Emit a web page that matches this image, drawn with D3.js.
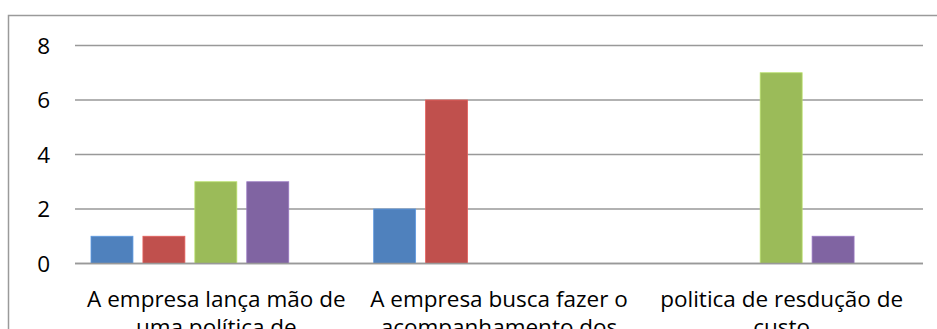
<!DOCTYPE html>
<html>
<head>
<meta charset="utf-8">
<script src="https://cdn.jsdelivr.net/npm/d3@7"></script>
<style>
  body { margin: 0; background: #fff; }
  svg { display: block; }
  text { font-family: "Open Sans", "Noto Sans", sans-serif; fill: #000; }
</style>
</head>
<body>
<svg id="chart" width="937" height="329"></svg>
<script>
// categories (each label broken into its lines, as in the picture)
var categories = ['c1', 'c2', 'c3'];
var categoryLines = [
    ['A empresa lança mão de', 'uma política de'],
    ['A empresa busca fazer o', 'acompanhamento dos'],
    ['politica de resdução de', 'custo']
];
var seriesNames = ['s1', 's2', 's3', 's4', 's5'];
var seriesColors = ['#4F81BD', '#C0504D', '#9BBB59', '#8064A2', '#4BACC6'];
// values per series, one per category
var s1 = [1, 2, 0];
var s2 = [1, 6, 0];
var s3 = [3, 0, 7];
var s4 = [3, 0, 1];
var s5 = [null, null, null];
var seriesValues = [s1, s2, s3, s4, s5];
var yTicks = [0, 2, 4, 6, 8];

window.onload = () => {
    let svg = d3.select('#chart');

    // outer chart border (right/bottom fall outside the picture)
    svg.append('rect')
        .attr('x', 8.5).attr('y', 15.5)
        .attr('width', 960).attr('height', 400)
        .attr('fill', 'none')
        .attr('stroke', '#9a9a9a')
        .attr('stroke-width', 1.5);

    let x = d3.scaleBand().domain(categories).range([75, 923]);
    let xs = d3.scaleBand().domain(seriesNames)
        .range([16, x.bandwidth() - 17])
        .paddingInner(0.192);
    let y = d3.scaleLinear().domain([0, 8]).range([263.5, 45.5]);

    // gridlines
    svg.append('g').selectAll('line').data(yTicks).join('line')
        .attr('x1', 75).attr('x2', 923)
        .attr('y1', d => y(d)).attr('y2', d => y(d))
        .attr('stroke', '#999')
        .attr('stroke-width', 1.4);

    // y tick labels
    svg.append('g').selectAll('text').data(yTicks).join('text')
        .attr('x', 50)
        .attr('y', d => y(d))
        .attr('dy', '0.36em')
        .attr('text-anchor', 'end')
        .style('font-size', '22.5px')
        .text(d => d);

    // bars
    let groups = svg.append('g').selectAll('g').data(categories).join('g')
        .attr('transform', d => 'translate(' + x(d) + ',0)');
    groups.selectAll('rect')
        .data((c, ci) => seriesNames.map((s, si) => ({ s: s, i: si, v: seriesValues[si][ci] })))
        .join('rect')
        .filter(d => d.v != null && d.v > 0)
        .attr('x', d => xs(d.s))
        .attr('width', xs.bandwidth())
        .attr('y', d => y(d.v))
        .attr('height', d => y(0) - y(d.v))
        .attr('fill', d => seriesColors[d.i])
        .attr('stroke', d => d3.color(seriesColors[d.i]).brighter(0.5))
        .attr('stroke-width', 0.8);

    // redraw zero line on top of bars
    svg.append('line')
        .attr('x1', 75).attr('x2', 923)
        .attr('y1', y(0)).attr('y2', y(0))
        .attr('stroke', '#999')
        .attr('stroke-width', 1.4);

    // category labels
    let labels = svg.append('g').selectAll('text').data(categories).join('text')
        .attr('text-anchor', 'middle')
        .style('font-size', '22.5px');
    labels.selectAll('tspan')
        .data((c, ci) => categoryLines[ci])
        .join('tspan')
        .attr('x', function () { return x(d3.select(this.parentNode).datum()) + x.bandwidth() / 2; })
        .attr('y', (d, i) => 307 + i * 28)
        .text(d => d);
};
</script>
</body>
</html>
